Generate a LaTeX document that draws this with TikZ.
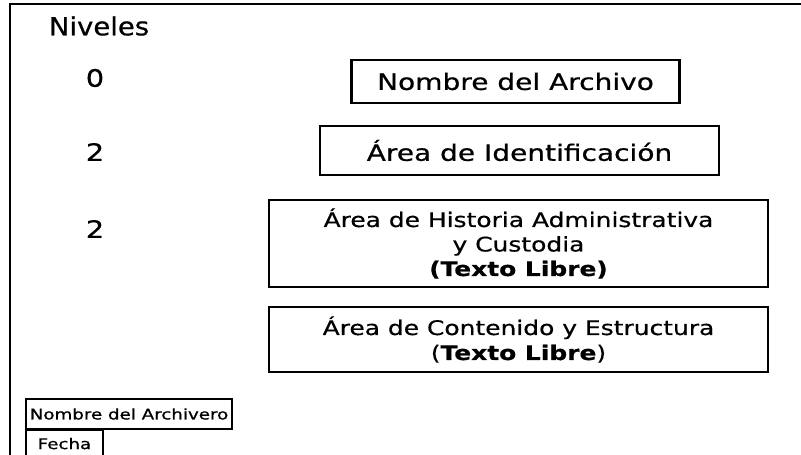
\documentclass[tikz,border=0pt]{standalone}
\usepackage{fontspec}
\newfontfamily\bxfont{DejaVu Sans}[FakeStretch=1.24,FakeBold=0.6]
\newfontfamily\lvfont{DejaVu Sans}[FakeStretch=1.1,FakeBold=0.6]
\newfontfamily\dgfont{DejaVu Sans}[FakeStretch=1.2,FakeBold=0.6]
\newfontfamily\smfont{DejaVu Sans}[FakeStretch=1.25,FakeBold=0.8]
\begin{document}
\begin{tikzpicture}[x=1pt,y=-1pt,
  areabox/.style={draw=black, line width=2.6pt, inner sep=0pt, align=center},
  smallbox/.style={draw=black, line width=2pt, inner sep=0pt, align=center},
  lbl/.style={inner sep=0pt}]
\useasboundingbox (0,0) rectangle (801,455);
\clip (0,0) rectangle (801,455);
\fill[white] (0,0) rectangle (801,455);
% outer frame
\coordinate (fbl) at (10,462);
\coordinate (ftl) at (10,4);
\coordinate (ftr) at (812,4);
\draw[line width=2.2pt] (fbl) -- (ftl) -- (ftr);
% level labels
\node[lbl] (niv) at (99,26) {\lvfont\fontsize{25}{28}\selectfont Niveles};
\node[lbl] (l0) at (95,78) {\dgfont\fontsize{24}{27}\selectfont 0};
\node[lbl] (l1) at (95,152) {\dgfont\fontsize{24}{27}\selectfont 2};
\node[lbl] (l2) at (95,229) {\dgfont\fontsize{24}{27}\selectfont 2};
% boxes
\node[areabox, minimum width=328pt, minimum height=43pt] (b1) at (515.5,81.5)
  {\bxfont\fontsize{22.6}{24}\selectfont Nombre del Archivo};
\node[areabox, minimum width=399pt, minimum height=49pt] (b2) at (519.5,150.5)
  {\bxfont\fontsize{22.6}{24}\selectfont Área de Identificación};
\node[areabox, minimum width=499pt, minimum height=87pt, font=\bxfont\fontsize{20.1}{24.5}\selectfont] (b3) at (518.5,243.5)
  {Área de Historia Administrativa\\y Custodia\\\textbf{(Texto Libre)}};
\node[areabox, minimum width=499pt, minimum height=65pt, font=\bxfont\fontsize{20.1}{25}\selectfont] (b4) at (518.5,339.5)
  {Área de Contenido y Estructura\\(\textbf{Texto Libre})};
% small boxes
\node[smallbox, minimum width=206pt, minimum height=30pt] (s1) at (129,414)
  {\smfont\fontsize{14.6}{16}\selectfont Nombre del Archivero};
\node[smallbox, minimum width=77pt, minimum height=32pt, anchor=north] (s2) at (64.5,429)
  {\smfont\fontsize{14.6}{16}\selectfont\raisebox{5pt}{Fecha}};
\end{tikzpicture}
\end{document}
